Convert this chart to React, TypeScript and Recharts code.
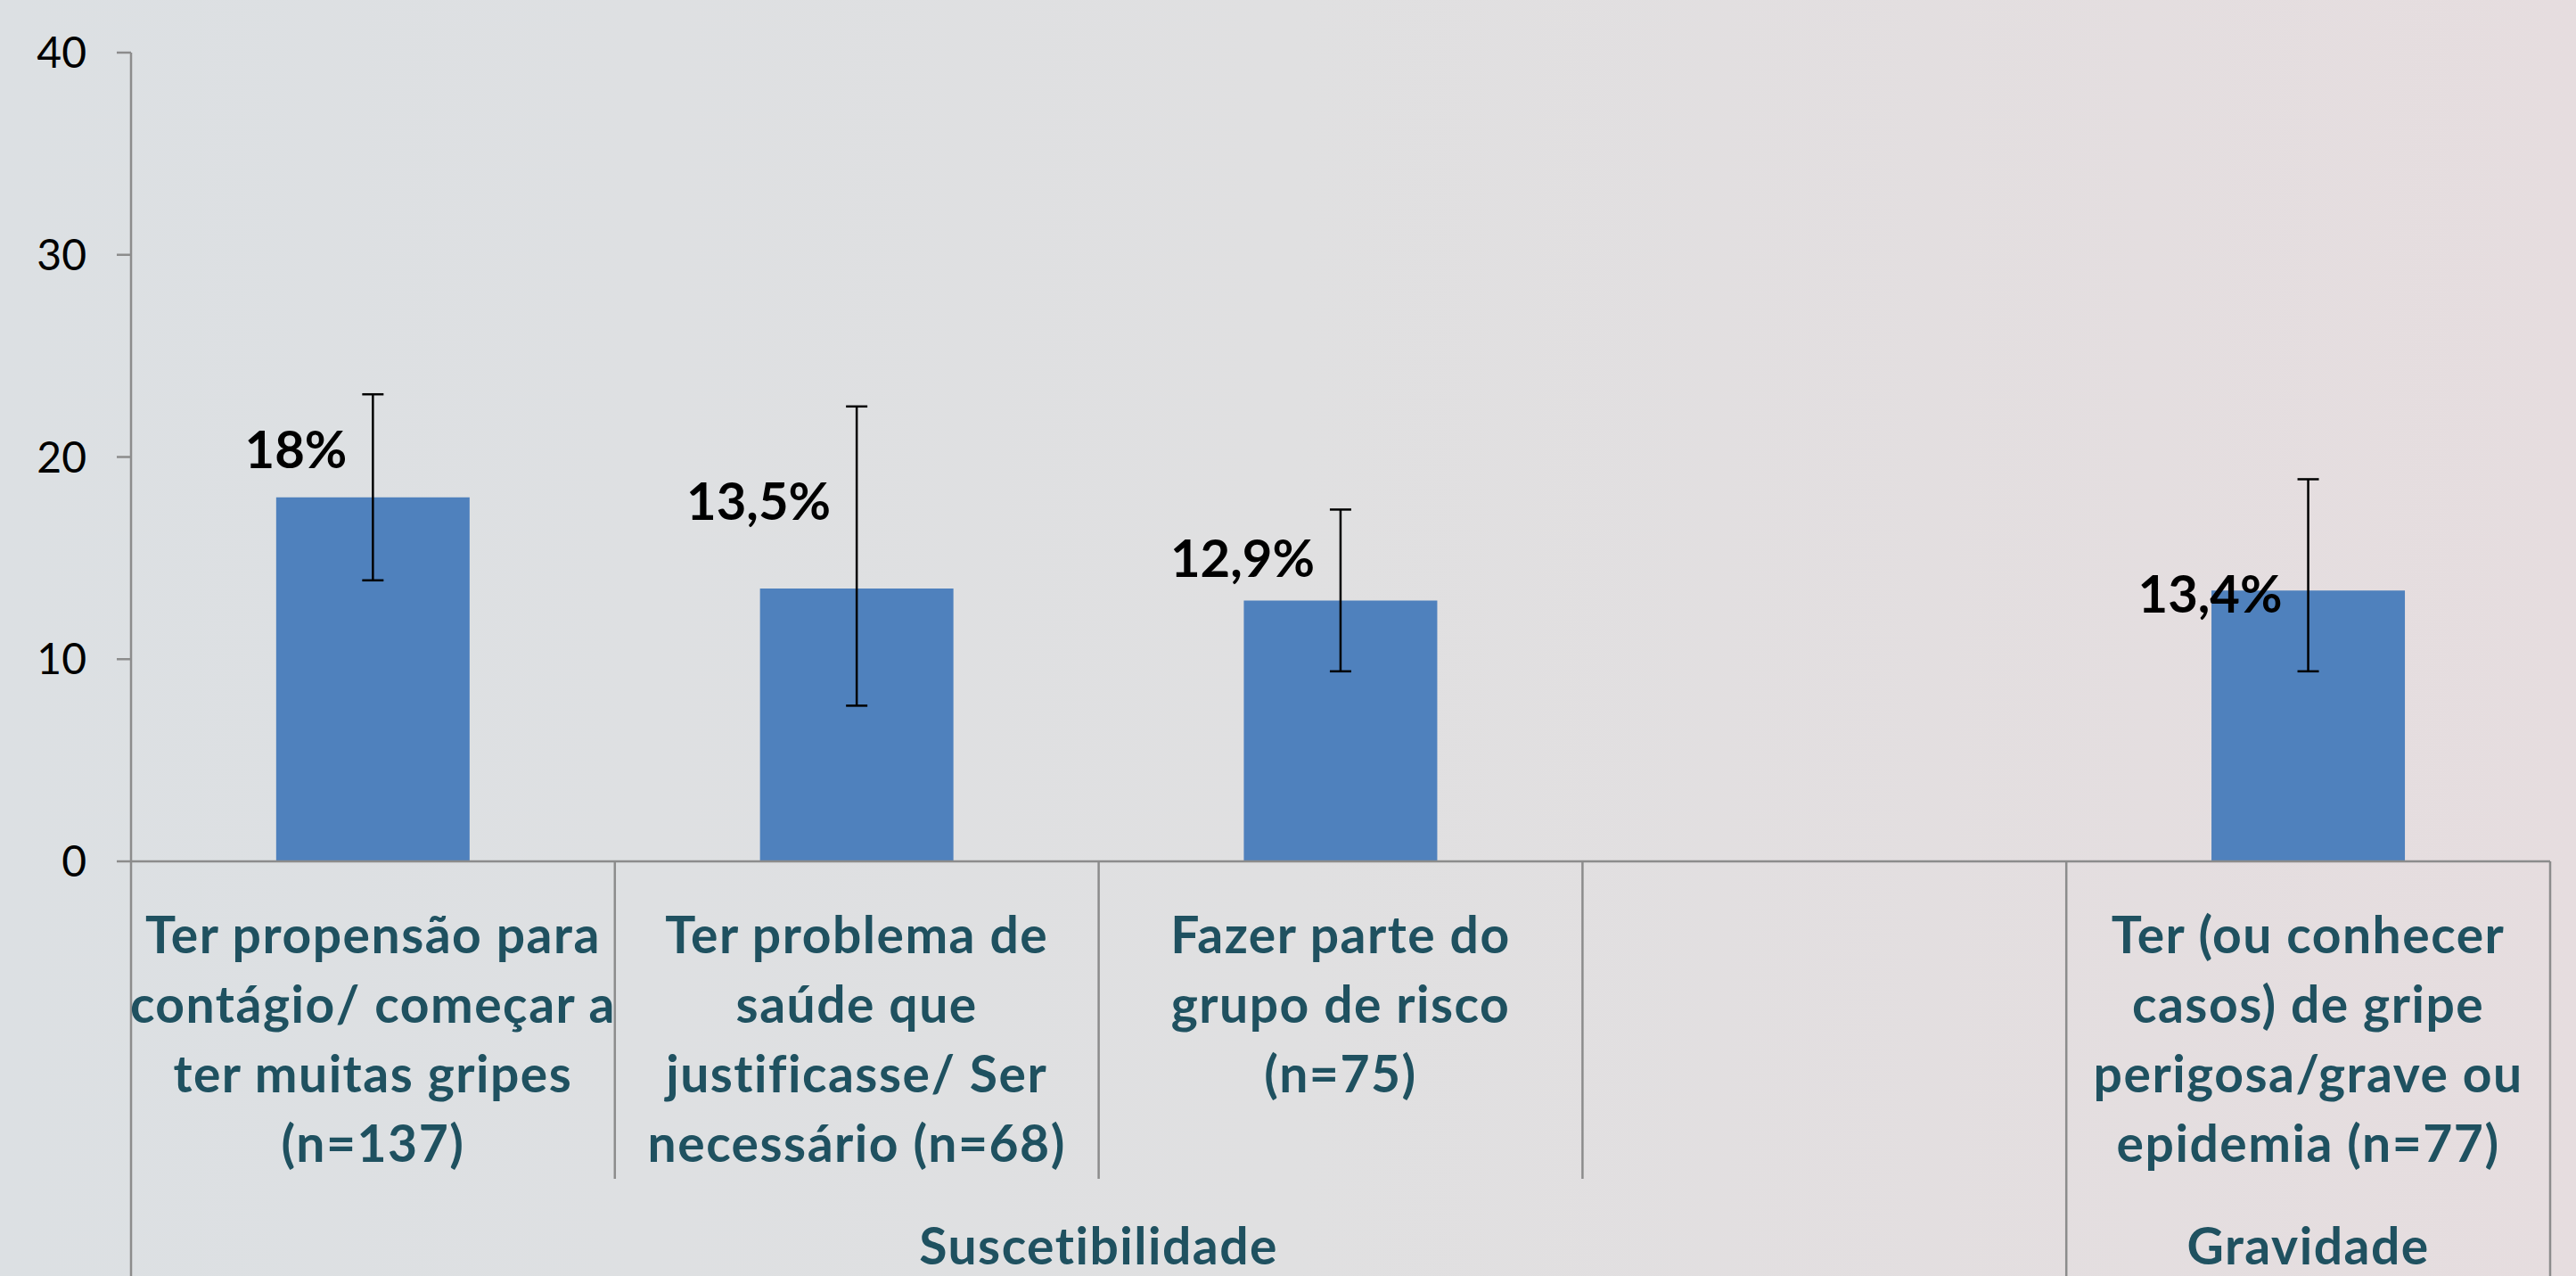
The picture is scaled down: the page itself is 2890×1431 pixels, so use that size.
import { BarChart, Bar, XAxis, YAxis, ErrorBar, LabelList } from 'recharts';

const categories = [
  'Ter propensão para contágio/ começar a ter muitas gripes (n=137)',
  'Ter problema de saúde que justificasse/ Ser necessário (n=68)',
  'Fazer parte do grupo de risco (n=75)',
  '',
  'Ter (ou conhecer casos) de gripe perigosa/grave ou epidemia (n=77)',
];

// line breaks as in the slide
const categoryLines = [
  ['Ter propensão para', 'contágio/ começar a', 'ter muitas gripes', '(n=137)'],
  ['Ter problema de', 'saúde que', 'justificasse/ Ser', 'necessário (n=68)'],
  ['Fazer parte do', 'grupo de risco', '(n=75)'],
  [],
  ['Ter (ou conhecer', 'casos) de gripe', 'perigosa/grave ou', 'epidemia (n=77)'],
];

const percentages = [18, 13.5, 12.9, null, 13.4];
const ciLower = [13.9, 7.7, 9.4, null, 9.4];
const ciUpper = [23.1, 22.5, 17.4, null, 18.9];

const groupNames = ['Suscetibilidade', 'Gravidade'];
const groupSpans = [4, 1];

const yTicks = [0, 10, 20, 30, 40];

const W = 2890;
const H = 1431;
const Y_AXIS_W = 147;
const X_AXIS_H = 465;
const MARGIN = { top: 59, right: 29, bottom: 0, left: 0 };
const BAND = (W - Y_AXIS_W - MARGIN.right) / categories.length;

const AXIS_GREY = '#8c8c8c';
const LABEL_COLOR = '#1f5160';

const data = categories.map((name, i) => {
  const v = percentages[i];
  const lo = ciLower[i];
  const hi = ciUpper[i];
  return {
    name,
    value: v,
    err: v == null || lo == null || hi == null ? null : [+(v - lo).toFixed(2), +(hi - v).toFixed(2)],
  };
});

const groupStarts = groupSpans.map((_, g) => groupSpans.slice(0, g).reduce((a, b) => a + b, 0));

function CategoryTick(props: any) {
  const { x, y, index } = props;
  const left = x - BAND / 2;
  const right = x + BAND / 2;
  const g = groupStarts.indexOf(index);
  const isLast = index === categories.length - 1;
  const lines = categoryLines[index] ?? [];
  const textStyle = { letterSpacing: 1.5 };
  return (
    <g>
      <line x1={left} x2={left} y1={y} y2={g >= 0 ? H : y + 356} stroke={AXIS_GREY} strokeWidth={2.5} />
      {isLast && <line x1={right} x2={right} y1={y} y2={H} stroke={AXIS_GREY} strokeWidth={2.5} />}
      <text textAnchor="middle" fill={LABEL_COLOR} fontSize={57} fontWeight={700} style={textStyle}>
        {lines.map((l, k) => (
          <tspan key={k} x={x} y={y + 103 + k * 78}>{l}</tspan>
        ))}
      </text>
      {g >= 0 && (
        <text
          x={left + (groupSpans[g] * BAND) / 2}
          y={y + 452}
          textAnchor="middle"
          fill={LABEL_COLOR}
          fontSize={57}
          fontWeight={700}
          style={textStyle}
        >
          {groupNames[g]}
        </text>
      )}
    </g>
  );
}

function ValueLabel(props: any) {
  const vb = props.viewBox ?? props;
  const x = Number(vb.x ?? props.x);
  const y = Number(vb.y ?? props.y);
  const width = Number(vb.width ?? props.width);
  const height = Number(vb.height ?? props.height);
  const { value, index } = props;
  if (value == null || !height) return null;
  const upper = ciUpper[index] ?? value;
  const ppu = height / value;
  const errTop = y - (upper - value) * ppu;
  const baseline = (y + errTop) / 2 + 25;
  return (
    <text x={x + width / 2 - 29} y={baseline} textAnchor="end" fill="#000" fontSize={58} fontWeight={700}>
      {String(value).replace('.', ',')}%
    </text>
  );
}

export default function App() {
  return (
    <div
      style={{
        width: W,
        height: H,
        background: 'linear-gradient(to right, #dce0e3, #e0e0e1 50%, #e6dddf)',
        fontFamily: 'Lato, sans-serif',
        overflow: 'hidden',
      }}
    >
      <style>{'body{margin:0;overflow:hidden}'}</style>
      <BarChart width={W} height={H} data={data} margin={MARGIN} barCategoryGap="30%">
        <XAxis
          dataKey="name"
          height={X_AXIS_H}
          interval={0}
          tickSize={0}
          tickMargin={0}
          tickLine={false}
          axisLine={{ stroke: AXIS_GREY, strokeWidth: 2.5 }}
          tick={(p: any) => <CategoryTick {...p} />}
        />
        <YAxis
          width={Y_AXIS_W}
          domain={[0, 40]}
          ticks={yTicks}
          interval={0}
          tickSize={16}
          tickMargin={34}
          axisLine={{ stroke: AXIS_GREY, strokeWidth: 2.5 }}
          tickLine={{ stroke: AXIS_GREY, strokeWidth: 2.5 }}
          tick={{ fill: '#000', fontSize: 48 }}
        />
        <Bar dataKey="value" fill="#4f81bd" isAnimationActive={false}>
          <ErrorBar dataKey="err" direction="y" width={12} stroke="#000" strokeWidth={2.5} />
          <LabelList dataKey="value" content={(p: any) => <ValueLabel {...p} />} />
        </Bar>
      </BarChart>
    </div>
  );
}
